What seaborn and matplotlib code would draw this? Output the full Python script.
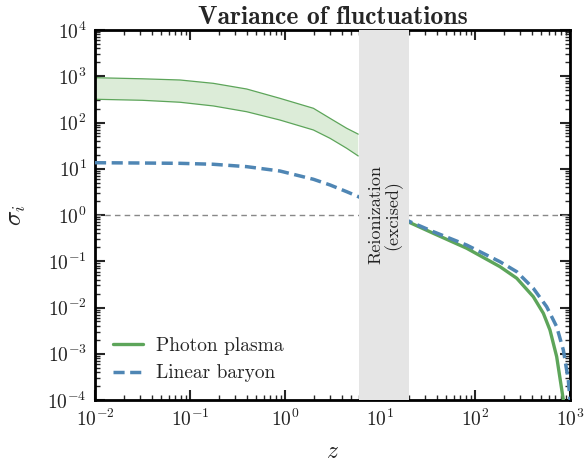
import numpy as np
import pandas as pd
import matplotlib
matplotlib.use("Agg")
import matplotlib.pyplot as plt
import matplotlib.transforms as mtransforms
import seaborn as sns

# ---- data ----
band_z = [0.01, 0.0316, 0.0785, 0.176, 0.395, 0.885, 1.99, 2.98, 4.46, 5.9]
band_upper = [931, 881, 830, 703, 530, 333, 203, 123, 75, 56]
band_lower = [318, 302, 274, 228, 171, 113, 68.9, 45.5, 27.7, 18.9]

plasma_z = [20.7, 36.4, 81.7, 183, 275, 411, 524, 615, 724, 851]
plasma_sigma = [0.682, 0.402, 0.191, 0.0764, 0.0429, 0.0171, 0.0075, 0.00327, 0.000865, 0.0001]

baryon_z = [0.01, 0.0316, 0.0785, 0.176, 0.395, 0.885, 1.99, 2.98, 4.46, 5.9,
            20.7, 36.4, 81.7, 183, 275, 411, 568, 724, 851, 960, 1000]
baryon_sigma = [13.5, 13.3, 13.1, 12.5, 11.1, 8.93, 5.92, 4.46, 3.19, 2.5,
                0.716, 0.436, 0.224, 0.0977, 0.0594, 0.026, 0.0104, 0.00385, 0.0012, 0.00027, 0.0001]

reion_lo, reion_hi = 6.0, 20.0
title = "Variance of fluctuations"
legend_labels = ["Photon plasma", "Linear baryon"]

sns.set_style("ticks")
plt.rcParams.update({
    "font.family": "serif",
    "font.serif": ["cmr10", "DejaVu Serif"],
    "mathtext.fontset": "cm",
    "axes.formatter.use_mathtext": True,
    "axes.unicode_minus": False,
})

green = "#5da55a"
green_fill = "#dcecd8"
blue = "#4f86b4"

fig = plt.figure(figsize=(5.85, 4.70), dpi=100)
ax = fig.add_axes([95/585, 70/470, 475/585, 370/470])

ax.fill_between(band_z, band_lower, band_upper, facecolor=green_fill,
                edgecolor="none", zorder=1)
ax.plot(band_z, band_upper, color=green, lw=0.9, zorder=2)
ax.plot(band_z, band_lower, color=green, lw=0.9, zorder=2)

df_p = pd.DataFrame({"z": plasma_z, "s": plasma_sigma})
df_b = pd.DataFrame({"z": baryon_z, "s": baryon_sigma})
sns.lineplot(data=df_p, x="z", y="s", ax=ax, color=green, lw=2.4,
             label=legend_labels[0], zorder=3)
sns.lineplot(data=df_b, x="z", y="s", ax=ax, color=blue, lw=2.5,
             linestyle=(0, (3.2, 1.6)), label=legend_labels[1], zorder=4)

ax.axhline(1.0, color="#888888", lw=1.0, ls=(0, (4, 3)), zorder=1.5)
ax.axvspan(reion_lo, reion_hi, color="#e5e5e5", lw=0, zorder=5)
trans = mtransforms.blended_transform_factory(ax.transData, ax.transAxes)
ax.text(np.sqrt(reion_lo * reion_hi) * 1.03, 0.50, "Reionization\n(excised)",
        rotation=90, ha="center", va="center", fontsize=13, color="#222222",
        transform=trans, zorder=6, linespacing=1.05)

ax.set_xscale("log")
ax.set_yscale("log")
ax.set_xlim(1e-2, 1e3)
ax.set_ylim(1e-4, 1e4)
ax.set_xticks([1e-2, 1e-1, 1e0, 1e1, 1e2, 1e3])
ax.set_yticks([10.0**k for k in range(-4, 5)])
ax.yaxis.set_minor_locator(matplotlib.ticker.LogLocator(base=10, subs=np.arange(2, 10), numticks=20))
ax.xaxis.set_minor_locator(matplotlib.ticker.LogLocator(base=10, subs=np.arange(2, 10), numticks=20))

ax.set_xlabel(r"$z$", fontsize=17, labelpad=8)
ax.set_ylabel(r"$\sigma_i$", fontsize=18, labelpad=14)
ax.set_title(title, fontsize=18.5, fontweight="bold", family="cmb10", pad=4)

for s in ax.spines.values():
    s.set_linewidth(2.0)
    s.set_color("black")
ax.tick_params(which="both", direction="in", top=True, right=True, labelsize=14, pad=6,
               labelcolor="#222222")
ax.tick_params(which="major", length=7, width=1.5)
ax.tick_params(which="minor", length=3.5, width=1.0)

leg = ax.legend(loc="lower left", frameon=False, fontsize=14,
                bbox_to_anchor=(0.0, 0.0), handlelength=1.55,
                handletextpad=0.7, labelspacing=0.5)

fig.savefig("out.png", dpi=100)
